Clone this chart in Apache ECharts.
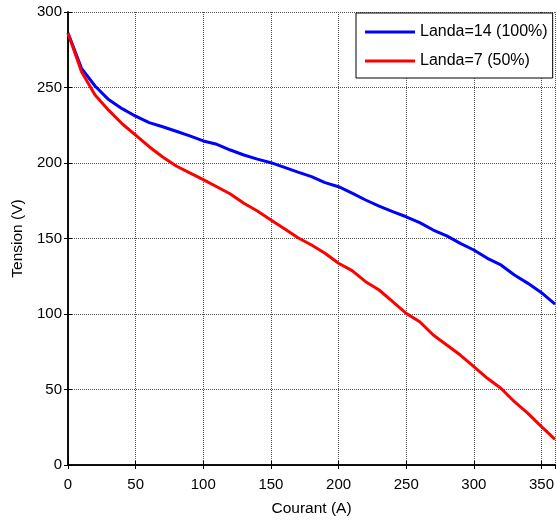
<!DOCTYPE html>
<html>
<head>
<meta charset="utf-8">
<script src="https://cdn.jsdelivr.net/npm/echarts@6/dist/echarts.min.js"></script>
<style>html,body{margin:0;padding:0;background:#fff}#c{width:557px;height:524px}</style>
</head>
<body>
<div id="c"></div>
<script>
const currents = [0,10,20,30,40,50,60,70,80,90,100,110,120,130,140,150,160,170,180,190,200,210,220,230,240,250,260,270,280,290,300,310,320,330,340,350,360];
const landa14 = [286,262.7,251,242,236,231,226.7,224,221,218,214.6,212.4,208.6,205.3,202.6,200.2,197.1,194,191,187,184.3,180,175.5,171.5,167.8,164.4,160.5,155.6,151.7,146.8,142.4,136.9,132.5,125.8,120.3,114.1,106.6];
const landa7 = [286,260.5,245,235,226,218.5,210.8,204,198,193.5,189,184.3,179.5,173.3,168.2,162.3,156.5,150.5,145.7,140.2,133.6,128.7,121.4,115.9,108.2,100.4,94.9,86.1,79.5,72.8,65.1,57.4,50.8,41.9,34.2,25.4,17];
const seriesNames = ['Landa=14 (100%)', 'Landa=7 (50%)'];
const xTicks = {min: 0, max: 360, interval: 50};
const yTicks = {min: 0, max: 300, interval: 50};

const font = 'Liberation Sans, Arial, sans-serif';
const chart = echarts.init(document.getElementById('c'), null, {renderer: 'canvas'});
const mkPts = arr => currents.map((c, i) => [c, arr[i]]);
const baseAxisLine = {show: true, lineStyle: {color: '#000', width: 1.5}};
chart.setOption({
  animation: false,
  backgroundColor: '#fff',
  grid: {left: 68, right: 1, top: 12, bottom: 59, containLabel: false},
  legend: {
    orient: 'vertical', left: 356, top: 13,
    data: seriesNames,
    icon: 'rect', itemWidth: 50, itemHeight: 3, itemGap: 13, itemTextGap: 5,
    padding: [11, 5, 9, 9],
    borderColor: '#000', borderWidth: 1, backgroundColor: '#fff',
    textStyle: {fontFamily: font, fontSize: 16, color: '#000'}
  },
  xAxis: [{
    type: 'value', min: xTicks.min, max: xTicks.max, interval: xTicks.interval,
    name: 'Courant (A)', nameLocation: 'middle', nameGap: 36,
    nameTextStyle: {fontFamily: font, fontSize: 15.5, color: '#000'},
    axisLine: baseAxisLine,
    axisTick: {show: true, inside: true, length: 4, lineStyle: {color: '#000'}},
    axisLabel: {fontFamily: font, fontSize: 15, color: '#000', margin: 12, showMaxLabel: false},
    splitLine: {show: true, lineStyle: {color: '#555', type: [1, 1], width: 1}}
  }, {
    type: 'value', position: 'top', min: xTicks.min, max: xTicks.max, interval: xTicks.interval,
    axisLine: baseAxisLine,
    axisTick: {show: true, inside: true, length: 4, lineStyle: {color: '#000'}},
    axisLabel: {show: false}, splitLine: {show: false}
  }],
  yAxis: [{
    type: 'value', min: yTicks.min, max: yTicks.max, interval: yTicks.interval,
    name: 'Tension (V)', nameLocation: 'middle', nameGap: 42, nameRotate: 90,
    nameTextStyle: {fontFamily: font, fontSize: 15.5, color: '#000'},
    axisLine: baseAxisLine,
    axisTick: {show: true, inside: true, length: 4, lineStyle: {color: '#000'}},
    axisLabel: {fontFamily: font, fontSize: 15, color: '#000', margin: 6},
    splitLine: {show: true, lineStyle: {color: '#555', type: [1, 1], width: 1}}
  }, {
    type: 'value', position: 'right', min: yTicks.min, max: yTicks.max, interval: yTicks.interval,
    axisLine: baseAxisLine,
    axisTick: {show: true, inside: true, length: 4, lineStyle: {color: '#000'}},
    axisLabel: {show: false}, splitLine: {show: false}
  }],
  series: [{
    name: seriesNames[0], type: 'line', data: mkPts(landa14), showSymbol: false,
    lineStyle: {color: '#0000ff', width: 3}, itemStyle: {color: '#0000ff'}
  }, {
    name: seriesNames[1], type: 'line', data: mkPts(landa7), showSymbol: false,
    lineStyle: {color: '#ff0000', width: 3}, itemStyle: {color: '#ff0000'}
  }]
});
</script>
</body>
</html>
